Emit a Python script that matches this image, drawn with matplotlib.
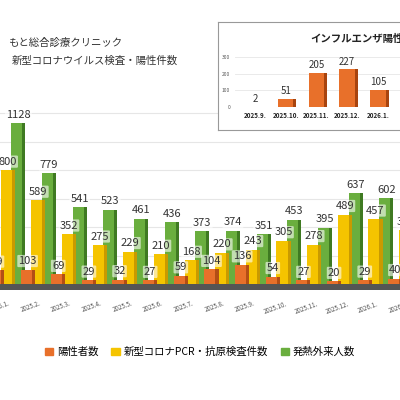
import matplotlib
matplotlib.use("Agg")
import matplotlib.pyplot as plt
from matplotlib.patches import Patch
import numpy as np

plt.rcParams['font.family'] = ['Noto Sans CJK JP', 'DejaVu Sans']

months = ["2025.1.", "2025.2.", "2025.3.", "2025.4.", "2025.5.", "2025.6.", "2025.7.",
          "2025.8.", "2025.9.", "2025.10.", "2025.11.", "2025.12.", "2026.1.", "2026.2."]
fever = [1128, 779, 541, 523, 461, 436, 373, 374, 351, 453, 395, 637, 602, 560]
tests = [800, 589, 352, 275, 229, 210, 168, 220, 243, 305, 278, 489, 457, 379]
positive = [99, 103, 69, 29, 32, 27, 59, 104, 136, 54, 27, 20, 29, 40]

flu_months = ["2025.9.", "2025.10.", "2025.11.", "2025.12.", "2026.1."]
flu_pos = [2, 51, 205, 227, 105]

C_OR, C_YE, C_GR = "#E8702A", "#F5C400", "#6AAE3E"
D_OR, D_YE, D_GR = "#B34E15", "#C99A00", "#3F7A22"

fig = plt.figure(figsize=(4, 4), dpi=100)
ax = fig.add_axes([0, 0.275, 1, 0.46])
x = np.arange(len(months))
w = 0.36
for vals, off, c, dc, z in [(fever, 0.85, C_GR, D_GR, 2), (tests, 0.5, C_YE, D_YE, 4), (positive, 0.15, C_OR, D_OR, 6)]:
    ax.bar(x + off + 0.1, vals, w, color=dc, zorder=z)
    ax.bar(x + off, vals, w, color=c, zorder=z + 1)
    for xi, v in zip(x, vals):
        ax.text(xi + off + 0.05, v + 25, str(v), ha='center', va='bottom', fontsize=8,
                color='#333333', zorder=10,
                bbox=dict(boxstyle='round,pad=0.1', fc='white', ec='none', alpha=0.6))
ax.axhspan(-40, 0, color='#555555', zorder=1)
ax.set_xlim(0.35, 13.35)
ax.set_ylim(-40, 1250)
ax.set_yticks([200, 400, 600, 800, 1000, 1200])
ax.yaxis.grid(True, color='#e6e6e6', lw=0.8, zorder=0)
ax.set_yticklabels([])
ax.tick_params(left=False, bottom=False)
ax.set_xticks(x + 0.3)
ax.set_xticklabels(months, rotation=20, fontsize=4.5, color='#555555')
for s in ax.spines.values():
    s.set_visible(False)

fig.text(0.02, 0.885, "もと総合診療クリニック", fontsize=7.5, color='#333333')
fig.text(0.03, 0.84, "新型コロナウイルス検査・陽性件数", fontsize=7.5, color='#333333')

# inset
frame = fig.add_axes([0.545, 0.675, 0.6, 0.27])
frame.set_xticks([]); frame.set_yticks([])
for s in frame.spines.values():
    s.set_color('#999999')
fig.text(0.775, 0.895, "インフルエンザ陽性者数", fontsize=7.5, fontweight='bold', color='#222222')
iax = fig.add_axes([0.5875, 0.7325, 0.4125, 0.125])
fx = np.arange(len(flu_months))
iax.bar(fx + 0.1, flu_pos, 0.5, color='#A8440F', zorder=2)
iax.bar(fx, flu_pos, 0.5, color=C_OR, zorder=3)
for xi, v in zip(fx, flu_pos):
    iax.text(xi, v + 15, str(v), ha='center', va='bottom', fontsize=7, color='#333333')
iax.set_xlim(-0.65, 4.72)
iax.set_ylim(0, 300)
iax.set_yticks([0, 100, 200, 300])
iax.tick_params(labelsize=3.5, length=0, colors='#555555')
iax.set_xticks(fx)
iax.set_xticklabels(flu_months, fontsize=4.5, fontweight='bold', color='#222222')
iax.yaxis.grid(True, color='#e6e6e6', lw=0.6, zorder=0)
for s in iax.spines.values():
    s.set_visible(False)
iax.patch.set_alpha(0)

handles = [Patch(color=C_OR), Patch(color=C_YE), Patch(color=C_GR)]
fig.legend(handles, ["陽性者数", "新型コロナPCR・抗原検査件数", "発熱外来人数"], loc='center',
           bbox_to_anchor=(0.5, 0.12), ncol=3, frameon=False, fontsize=7.5,
           handlelength=0.8, handleheight=0.8, columnspacing=1.2, handletextpad=0.4)
fig.savefig("out.png", dpi=100)
